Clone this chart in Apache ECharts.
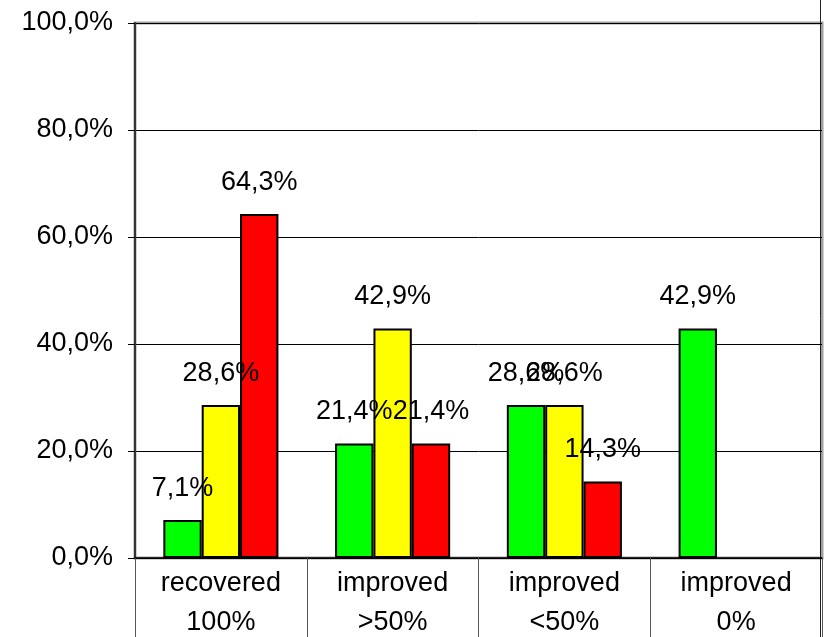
<!DOCTYPE html>
<html>
<head>
<meta charset="utf-8">
<title>Outcome by group</title>
<script src="https://cdn.jsdelivr.net/npm/echarts@6/dist/echarts.min.js"></script>
<style>
  html, body { margin: 0; padding: 0; background: #ffffff; }
  #chart { width: 832px; height: 637px; }
</style>
</head>
<body>
<div id="chart"></div>
<script>
// Outcome categories (two-line labels)
var categories = ['recovered\n100%', 'improved\n>50%', 'improved\n<50%', 'improved\n0%'];

// Share of patients per group, in percent
var greenValues  = [7.1, 21.4, 28.6, 42.9];
var yellowValues = [28.6, 42.9, 28.6, null];
var redValues    = [64.3, 21.4, 14.3, null];

// Value axis range
var yMin = 0;
var yMax = 100;
var yStep = 20;

var FONT = 'Liberation Sans, Arial, sans-serif';

function pct(v) {
  return v.toFixed(1).replace('.', ',') + '%';
}

function barSeries(name, values, color) {
  return {
    name: name,
    type: 'bar',
    data: values,
    barGap: '0%',
    barCategoryGap: '33%',
    itemStyle: { color: color, borderColor: '#000000', borderWidth: 2 },
    label: {
      show: true,
      position: 'top',
      distance: 18,
      color: '#000000',
      fontFamily: FONT,
      fontSize: 27,
      formatter: function (p) { return p.value == null ? '' : pct(p.value); }
    },
    emphasis: { disabled: true },
    silent: true
  };
}

var chart = echarts.init(document.getElementById('chart'), null, { renderer: 'canvas' });

chart.setOption({
  backgroundColor: '#ffffff',
  animation: false,
  grid: {
    left: 135, right: 10, top: 23, bottom: 79,
    outerBoundsMode: 'none',
    containLabel: false,
    show: true,
    borderColor: '#a0a0a0',
    borderWidth: 3,
    backgroundColor: 'transparent'
  },
  xAxis: {
    type: 'category',
    data: categories,
    axisLine: { show: true, lineStyle: { color: '#000000', width: 1.5 } },
    axisTick: {
      show: true,
      interval: 0,
      alignWithLabel: false,
      length: 80,
      lineStyle: { color: '#555555', width: 1 }
    },
    axisLabel: {
      interval: 0,
      margin: 6,
      color: '#000000',
      fontFamily: FONT,
      fontSize: 27,
      lineHeight: 39
    },
    splitLine: { show: false }
  },
  yAxis: {
    type: 'value',
    min: yMin,
    max: yMax,
    interval: yStep,
    axisLine: { show: true, lineStyle: { color: '#333333', width: 2 } },
    axisTick: { show: true, inside: false, length: 7, lineStyle: { color: '#000000', width: 1 } },
    axisLabel: {
      margin: 22,
      color: '#000000',
      fontFamily: FONT,
      fontSize: 27,
      formatter: function (v) { return pct(v); }
    },
    splitLine: { show: true, lineStyle: { color: '#000000', width: 1 } }
  },
  graphic: [
    {
      type: 'line',
      shape: { x1: 820.5, y1: 0, x2: 820.5, y2: 637 },
      style: { stroke: '#222222', lineWidth: 1 },
      silent: true
    }
  ],
  series: [
    barSeries('green', greenValues, '#00ff00'),
    barSeries('yellow', yellowValues, '#ffff00'),
    barSeries('red', redValues, '#ff0000')
  ]
});
</script>
</body>
</html>
